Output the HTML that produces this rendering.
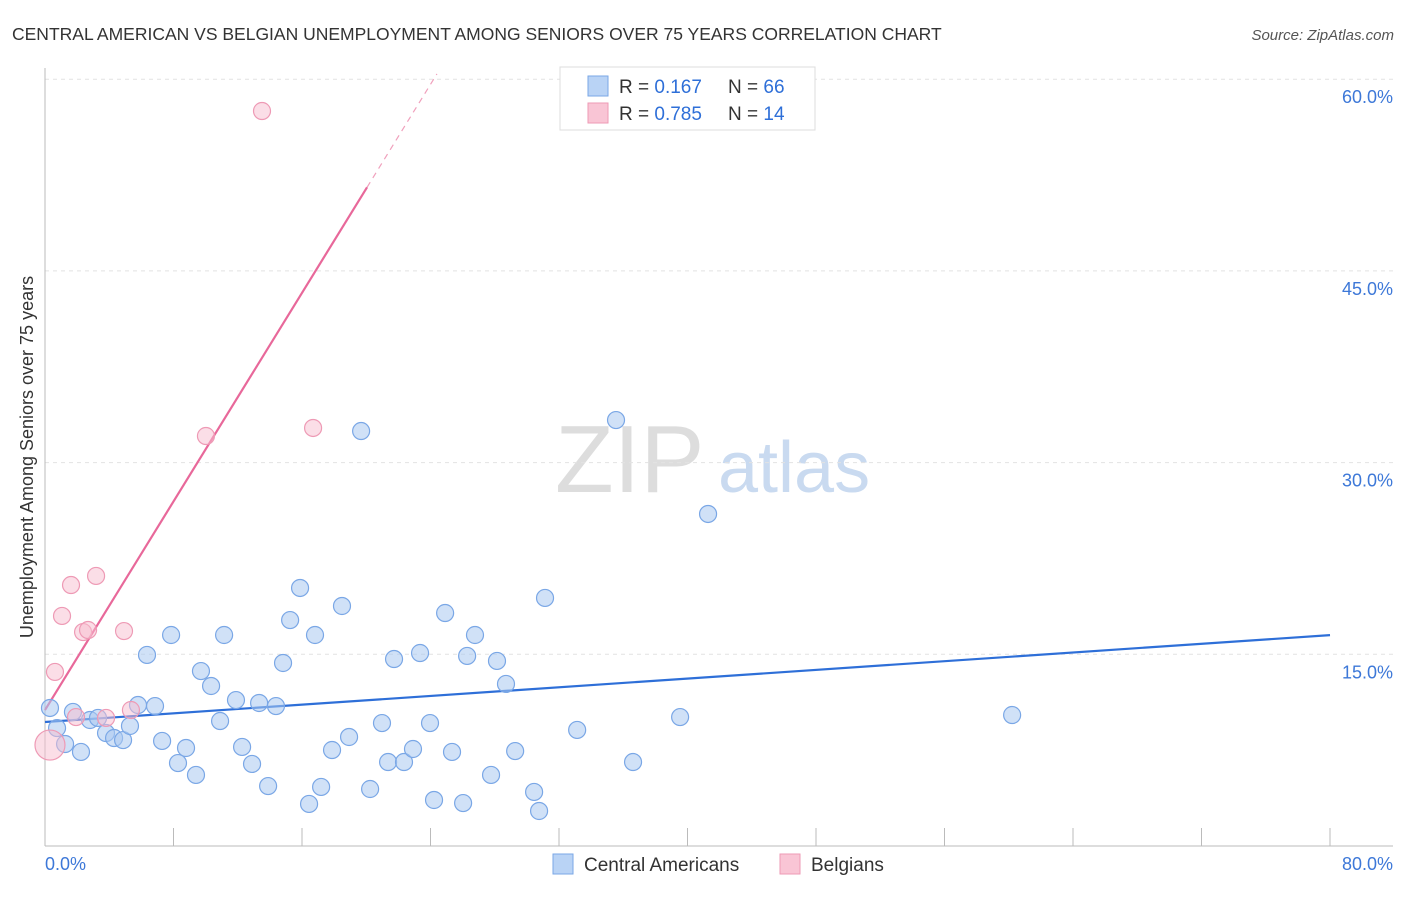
<!DOCTYPE html>
<html><head><meta charset="utf-8"><style>
body{margin:0;background:#fff;font-family:"Liberation Sans",sans-serif}
svg text{font-family:"Liberation Sans",sans-serif}
</style></head><body>
<svg width="1406" height="892">
<text x="12" y="40" font-size="17.5" fill="#333">CENTRAL AMERICAN VS BELGIAN UNEMPLOYMENT AMONG SENIORS OVER 75 YEARS CORRELATION CHART</text>
<text x="1394" y="40" font-size="15" fill="#555" font-style="italic" text-anchor="end">Source: ZipAtlas.com</text>
<text x="0" y="0" transform="translate(33,457) rotate(-90)" font-size="18" fill="#333" text-anchor="middle">Unemployment Among Seniors over 75 years</text>
<text x="555" y="492" font-size="96" fill="#ddd" font-family="Liberation Serif">ZIP</text>
<text x="718" y="492" font-size="72" fill="#c9daf0">atlas</text>
<g id="grid"></g><g id="axes"></g><g id="lines"></g><g id="pts"></g>
<g>
<rect x="560" y="67" width="255" height="63" fill="#fff" stroke="#ddd"/>
<rect x="588" y="76" width="20" height="20" fill="#b9d3f5" stroke="#7aa7e6"/>
<rect x="588" y="103" width="20" height="20" fill="#f9c5d5" stroke="#ee9ab5"/>
<text x="619" y="93" font-size="19" fill="#333">R = <tspan fill="#2e6fd8">0.167</tspan></text>
<text x="728" y="93" font-size="19" fill="#333">N = <tspan fill="#2e6fd8">66</tspan></text>
<text x="619" y="120" font-size="19" fill="#333">R = <tspan fill="#2e6fd8">0.785</tspan></text>
<text x="728" y="120" font-size="19" fill="#333">N = <tspan fill="#2e6fd8"> 14</tspan></text>
</g>
<g>
<rect x="553" y="854" width="20" height="20" fill="#b9d3f5" stroke="#7aa7e6"/>
<text x="584" y="871" font-size="19" fill="#333">Central Americans</text>
<rect x="780" y="854" width="20" height="20" fill="#f9c5d5" stroke="#ee9ab5"/>
<text x="811" y="871" font-size="19" fill="#333">Belgians</text>
</g>
</svg>
<script>
const blueX=[0.31,0.75,1.25,1.74,2.24,2.8,3.3,3.8,4.3,4.86,5.29,5.79,6.35,6.85,7.29,7.85,8.28,8.78,9.4,9.71,10.34,10.9,11.15,11.89,12.27,12.89,13.33,13.89,14.38,14.82,15.26,15.88,16.44,16.81,17.19,17.87,18.49,18.93,19.68,20.24,20.98,21.36,21.73,22.35,22.91,23.35,23.97,24.22,24.91,25.34,26.03,26.28,26.77,27.77,28.14,28.7,29.27,30.45,30.76,31.13,33.13,35.55,36.61,39.54,41.28,60.21];
const blueY=[10.8,9.23,7.98,10.49,7.36,9.86,10.02,8.84,8.45,8.29,9.39,11.03,14.95,10.95,8.22,16.51,6.49,7.67,5.56,13.69,12.52,9.78,16.51,11.42,7.75,6.42,11.19,4.69,10.95,14.32,17.68,20.19,3.29,16.51,4.62,7.51,18.78,8.53,32.47,4.46,9.62,6.57,14.63,6.57,7.59,15.1,9.62,3.6,18.23,7.36,3.36,14.87,16.51,5.56,14.48,12.68,7.43,4.23,2.74,19.41,9.08,33.33,6.57,10.09,25.98,10.25];
const pinkX=[0.31,0.62,1.06,1.62,1.93,2.37,2.68,3.18,3.8,4.92,5.35,10.02,13.51,16.69];
const pinkY=[7.9,13.62,18.0,20.42,10.09,16.74,16.9,21.13,10.02,16.82,10.64,32.08,57.51,32.71];
const yTicks=[15,30,45,60];
const yTickLabels=["15.0%","30.0%","45.0%","60.0%"];
const xTicks=[0,8,16,24,32,40,48,56,64,72,80];
const blueLine=[9.7,16.5];
const pinkLine=[10.64,2.04];
const NS="http://www.w3.org/2000/svg";
const X=v=>45+v*16.0625, Y=v=>846-v*12.78;
function mk(g,t,a){const e=document.createElementNS(NS,t);for(const k in a)e.setAttribute(k,a[k]);document.getElementById(g).appendChild(e);return e;}
yTicks.forEach((t,i)=>{
 const l=mk('grid','line',{x1:45,x2:1393,y1:Y(t),y2:Y(t),stroke:'#e2e2e2','stroke-dasharray':'4,4'});
 
 
 const tx=mk('axes','text',{x:1393,y:Y(t)+24,'font-size':18,fill:'#3d78d8','text-anchor':'end'});
 tx.textContent=yTickLabels[i];
 
 
});
let a=mk('axes','line',{x1:45,x2:45,y1:68,y2:846,stroke:'#bbb'});


a=mk('axes','line',{x1:45,x2:1393,y1:846,y2:846,stroke:'#bbb'});


xTicks.forEach(t=>{const l=mk('axes','line',{x1:X(t),x2:X(t),y1:828,y2:846,stroke:'#bbb'});
 
 });
let t0=mk('axes','text',{x:45,y:870,'font-size':18,fill:'#3d78d8'});t0.textContent='0.0%';


t0=mk('axes','text',{x:1393,y:870,'font-size':18,fill:'#3d78d8','text-anchor':'end'});t0.textContent='80.0%';


blueX.forEach((x,i)=>{const c=mk('pts','circle',{cx:X(x),cy:Y(blueY[i]),r:8.5,fill:'rgba(170,200,240,0.55)',stroke:'#7aa7e6','stroke-width':1.2});
 
 });
pinkX.forEach((x,i)=>{const c=mk('pts','circle',{cx:X(x),cy:Y(pinkY[i]),r:i==0?15:8.5,fill:'rgba(248,190,208,0.5)',stroke:'#ee9ab5','stroke-width':1.2});
 
 });
let l=mk('lines','line',{x1:X(0),y1:Y(blueLine[0]),x2:X(80),y2:Y(blueLine[1]),stroke:'#2e6fd8','stroke-width':2.2});


const px1=20.05,px2=24.4;
l=mk('lines','line',{x1:X(0),y1:Y(pinkLine[0]),x2:X(px1),y2:Y(pinkLine[0]+pinkLine[1]*px1),stroke:'#e8689a','stroke-width':2.2});


l=mk('lines','line',{x1:X(px1),y1:Y(pinkLine[0]+pinkLine[1]*px1),x2:X(px2),y2:Y(pinkLine[0]+pinkLine[1]*px2),stroke:'#f0a0bc','stroke-width':1.2,'stroke-dasharray':'6,5'});


</script>
</body></html>
